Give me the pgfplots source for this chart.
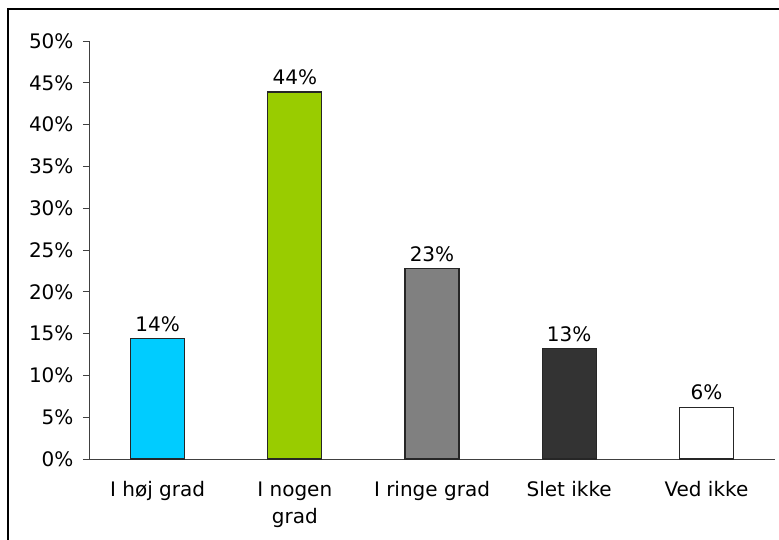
\documentclass[border=0pt]{standalone}
\usepackage{fontspec}
\setmainfont{DejaVu Sans}
\usepackage{pgfplots}
\pgfplotsset{compat=1.18}

\begin{document}
\begin{tikzpicture}[x=1pt,y=1pt]
\useasboundingbox (-89,-81) rectangle (690,459);
\draw[black, line width=1.2pt] (-81,-82) -- (-81,450) -- (691,450);
\begin{axis}[
  at={(0,0)}, anchor=origin,
  scale only axis,
  width=686pt, height=418pt,
  xmin=0, xmax=5, ymin=0, ymax=50,
  axis lines*=left,
  axis line style={black!75, line width=0.8pt},
  tick style={black!75, line width=0.8pt},
  tick align=outside,
  major tick length=6pt,
  /pgf/number format/assume math mode=true,
  ytick={0,5,...,50},
  yticklabels={0\%,5\%,10\%,15\%,20\%,25\%,30\%,35\%,40\%,45\%,50\%},
  yticklabel style={font=\fontsize{20}{24}\selectfont, xshift=-6pt},
  xtick={0.5,1.5,2.5,3.5,4.5},
  xticklabels={I høj grad, I nogen\\[3pt]grad, I ringe grad, Slet ikke, Ved ikke},
  xticklabel style={font=\fontsize{20}{24}\selectfont, align=center, anchor=north, yshift=-13pt},
  major x tick style={draw=none},
  extra x ticks={0,1,2,3,4,5},
  extra x tick labels={},
  extra x tick style={tick style={black!75, line width=0.8pt}, major tick length=9pt},
  ybar, bar width=54pt, bar shift=0pt,
  nodes near coords={\pgfmathprintnumber[fixed,precision=0]{\pgfplotspointmeta}\%},
  nodes near coords style={font=\fontsize{20}{24}\selectfont, black, yshift=3pt},
  clip=false,
]
\addplot[fill={rgb,255:red,0;green,204;blue,255}, draw=black!85, line width=1.2pt] coordinates {(0.5,14.4)};
\addplot[fill={rgb,255:red,153;green,204;blue,0}, draw=black!85, line width=1.2pt] coordinates {(1.5,43.9)};
\addplot[fill={rgb,255:red,128;green,128;blue,128}, draw=black!85, line width=1.2pt] coordinates {(2.5,22.8)};
\addplot[fill={rgb,255:red,51;green,51;blue,51}, draw=black!85, line width=1.2pt] coordinates {(3.5,13.2)};
\addplot[fill=white, draw=black!85, line width=1.2pt] coordinates {(4.5,6.2)};
\end{axis}
\end{tikzpicture}
\end{document}
